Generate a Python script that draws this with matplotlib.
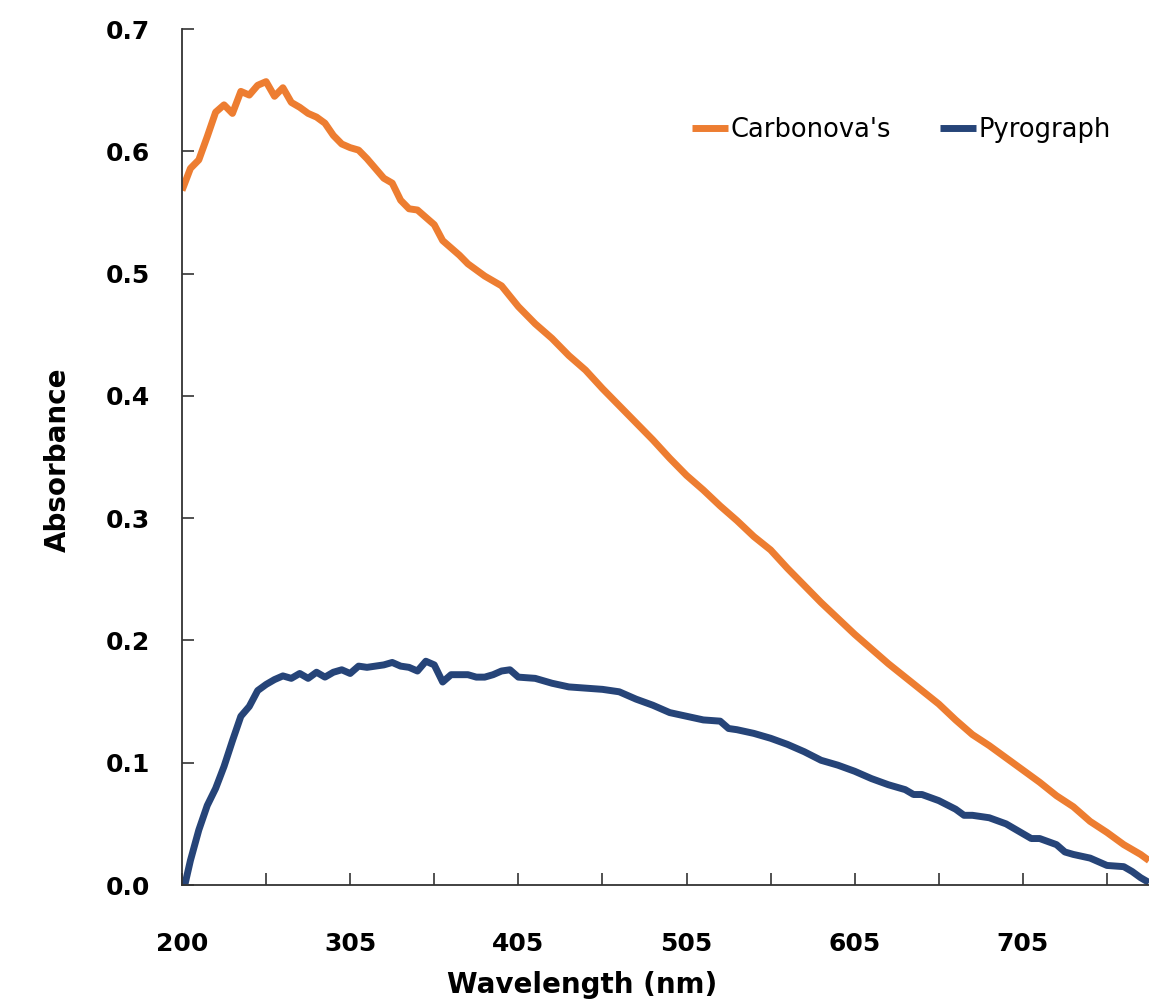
import matplotlib
matplotlib.use('Agg')
from matplotlib import pyplot as plt

# x is the point number on the (category) wavelength axis
x_labels = ["200", "305", "405", "505", "605", "705"]
label_every = 20
n_last = 115

carb_x = list(range(0, 37)) + list(range(38, 115, 2)) + [115]
carb_y = [0.568, 0.586, 0.593, 0.612, 0.632, 0.638, 0.631, 0.649, 0.646, 0.654,
          0.657, 0.645, 0.652, 0.640, 0.636, 0.631, 0.628, 0.623, 0.613, 0.606,
          0.603, 0.601, 0.594, 0.586, 0.578, 0.574, 0.560, 0.553, 0.552, 0.546,
          0.540, 0.527, 0.521, 0.515, 0.508, 0.503, 0.498,
          0.490, 0.473, 0.459, 0.447, 0.433, 0.421, 0.406, 0.392, 0.378, 0.364,
          0.349, 0.335, 0.323, 0.310, 0.298, 0.285, 0.274, 0.259, 0.245, 0.231,
          0.218, 0.205, 0.193, 0.181, 0.170, 0.159, 0.148, 0.135, 0.123, 0.114,
          0.104, 0.094, 0.084, 0.073, 0.064, 0.052, 0.043, 0.033, 0.025, 0.020]

pyro_x = list(range(0, 41)) + [42, 44, 46, 48, 50, 52, 54, 56, 58, 60, 62, 64, 65,
          66, 68, 70, 72, 74, 76, 78, 80, 82, 84, 86, 87, 88, 90, 92, 93, 94, 96,
          98, 100, 101, 102, 104, 105, 106, 108, 110, 112, 113, 114, 115]
pyro_y = [-0.010, 0.020, 0.045, 0.065, 0.079, 0.097, 0.118, 0.138, 0.146, 0.159,
          0.164, 0.168, 0.171, 0.169, 0.173, 0.169, 0.174, 0.170, 0.174, 0.176,
          0.173, 0.179, 0.178, 0.179, 0.180, 0.182, 0.179, 0.178, 0.175, 0.183,
          0.180, 0.166, 0.172, 0.172, 0.172, 0.170, 0.170, 0.172, 0.175, 0.176,
          0.170,
          0.169, 0.165, 0.162, 0.161, 0.160, 0.158, 0.152, 0.147, 0.141, 0.138,
          0.135, 0.134, 0.128, 0.127, 0.124, 0.120, 0.115, 0.109, 0.102, 0.098,
          0.093, 0.087, 0.082, 0.078, 0.074, 0.074, 0.069, 0.062, 0.057, 0.057,
          0.055, 0.050, 0.042, 0.038, 0.038, 0.033, 0.027, 0.025, 0.022, 0.016,
          0.015, 0.011, 0.006, 0.002]

fig = plt.figure(figsize=(11.49, 10.05), dpi=100)
ax = fig.add_axes([0.1584, 0.1194, 0.8416, 0.8517])

ax.plot(carb_x, carb_y, color='#ED7D31', linewidth=5, label="Carbonova's",
        solid_capstyle='butt', solid_joinstyle='round')
ax.plot(pyro_x, pyro_y, color='#264478', linewidth=5, label="Pyrograph",
        solid_capstyle='butt', solid_joinstyle='round')

ax.set_xlim(0, n_last)
ax.set_ylim(0, 0.7)

ticks = list(range(0, n_last, 10))
ax.set_xticks(ticks)
ax.set_xticklabels([x_labels[t // label_every] if t % label_every == 0 else '' for t in ticks])
ax.set_yticks([i / 10 for i in range(8)])
ax.set_yticklabels(["%.1f" % (i / 10) for i in range(8)])

for s in ['top', 'right']:
    ax.spines[s].set_visible(False)
for s in ['left', 'bottom']:
    ax.spines[s].set_color('#333333')
    ax.spines[s].set_linewidth(1.3)

ax.tick_params(axis='x', direction='in', length=8.6, width=1.2, color='#333333',
               pad=34, labelsize=18)
ax.tick_params(axis='y', direction='in', length=8.6, width=1.2, color='#333333',
               pad=23, labelsize=18)
for lab in ax.get_xticklabels() + ax.get_yticklabels():
    lab.set_fontweight('bold')

ax.set_xlabel('Wavelength (nm)', fontsize=20, fontweight='bold')
ax.set_ylabel('Absorbance', fontsize=20, fontweight='bold')
ax.xaxis.set_label_coords(0.414, -0.1)
ax.yaxis.set_label_coords(-0.1138, 0.4965)

ax.legend(loc='center', bbox_to_anchor=(0.7436, 0.882), ncol=2, frameon=False,
          fontsize=18.5, handlelength=1.4, handletextpad=0.1, columnspacing=1.9)

plt.savefig('out.png', dpi=100)
